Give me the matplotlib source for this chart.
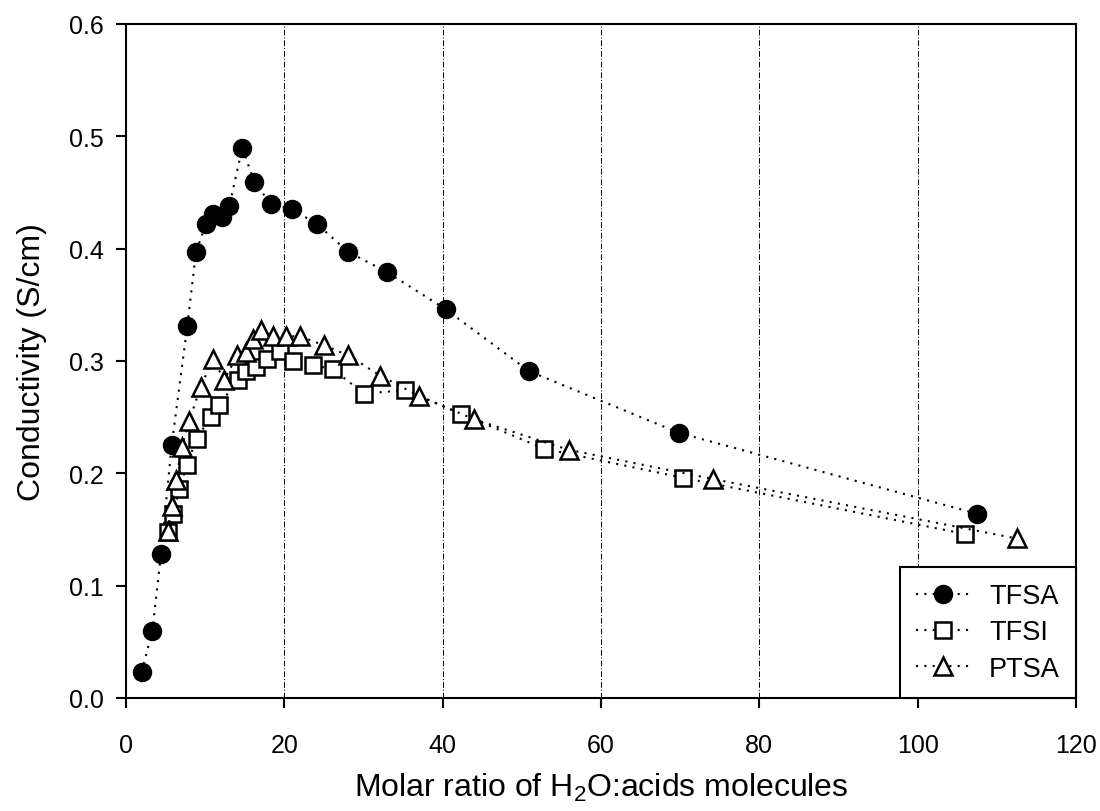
import matplotlib
matplotlib.use("Agg")
import matplotlib.pyplot as plt
from matplotlib.ticker import FormatStrFormatter

plt.rcParams['font.family'] = ['Liberation Sans', 'DejaVu Sans']
plt.rcParams['mathtext.fontset'] = 'custom'
plt.rcParams['mathtext.rm'] = 'Liberation Sans'
plt.rcParams['mathtext.it'] = 'Liberation Sans'

tfsa_x = [1.98, 3.33, 4.42, 5.77, 7.74, 8.84, 10.1, 11.0, 12.1, 13.05, 14.7, 16.2, 18.3, 21.0, 24.1, 28.1, 33.0, 40.4, 50.9, 69.85, 107.5]
tfsa_y = [0.023, 0.060, 0.128, 0.225, 0.331, 0.397, 0.422, 0.431, 0.428, 0.438, 0.490, 0.459, 0.440, 0.435, 0.422, 0.397, 0.379, 0.346, 0.291, 0.236, 0.164]

tfsi_x = [5.35, 5.98, 6.74, 7.66, 8.93, 10.7, 11.8, 14.1, 15.2, 16.4, 17.8, 19.4, 21.1, 23.6, 26.1, 30.0, 35.3, 42.3, 52.8, 70.4, 106.0]
tfsi_y = [0.148, 0.164, 0.186, 0.207, 0.231, 0.250, 0.261, 0.283, 0.291, 0.295, 0.302, 0.309, 0.300, 0.296, 0.293, 0.271, 0.274, 0.253, 0.222, 0.196, 0.146]

ptsa_x = [5.35, 5.77, 6.32, 7.03, 8.0, 9.43, 11.0, 12.4, 14.06, 15.2, 16.1, 17.1, 18.6, 20.2, 22.0, 25.0, 28.1, 32.1, 37.0, 44.0, 55.9, 74.1, 112.5]
ptsa_y = [0.149, 0.171, 0.194, 0.223, 0.247, 0.277, 0.302, 0.283, 0.305, 0.308, 0.320, 0.328, 0.322, 0.322, 0.322, 0.314, 0.305, 0.287, 0.269, 0.248, 0.221, 0.195, 0.142]

labels = ['TFSA', 'TFSI', 'PTSA']
x_ticks = [0, 20, 40, 60, 80, 100, 120]
y_ticks = [0.0, 0.1, 0.2, 0.3, 0.4, 0.5, 0.6]

fig = plt.figure(figsize=(11, 8.12), dpi=100)
ax = fig.add_axes([126/1100, 113/812, 950/1100, 674/812])

dot = (0, (1, 3))
ax.plot(tfsa_x, tfsa_y, linestyle=dot, color='black', lw=1.5, marker='o',
        markersize=13, markerfacecolor='black', markeredgecolor='black', label=labels[0], zorder=3)
ax.plot(tfsi_x, tfsi_y, linestyle=dot, color='black', lw=1.5, marker='s',
        markersize=11.5, markerfacecolor='white', markeredgecolor='black', markeredgewidth=1.8,
        label=labels[1], zorder=3)
ax.plot(ptsa_x, ptsa_y, linestyle=dot, color='black', lw=1.5, marker='^',
        markersize=13, markerfacecolor='white', markeredgecolor='black', markeredgewidth=1.8,
        label=labels[2], zorder=3)

ax.set_xlim(0, 120)
ax.set_ylim(0, 0.6)
ax.set_xticks(x_ticks)
ax.set_yticks(y_ticks)
ax.yaxis.set_major_formatter(FormatStrFormatter('%.1f'))
ax.tick_params(direction='out', length=7, width=1.5, labelsize=18)
ax.tick_params(axis='x', pad=18)
ax.tick_params(axis='y', pad=9)
for s in ax.spines.values():
    s.set_linewidth(1.5)

ax.xaxis.grid(True, color='black', linestyle=(0, (6, 2, 1, 2)), lw=0.7)
ax.set_axisbelow(True)

ax.set_xlabel('Molar ratio of H$_2$O:acids molecules', fontsize=23, labelpad=10)
ax.set_ylabel('Conductivity (S/cm)', fontsize=23, labelpad=16)

leg = ax.legend(loc='lower right', fontsize=19.5, frameon=True, fancybox=False,
                edgecolor='black', framealpha=1, borderaxespad=0, handlelength=2.0,
                borderpad=0.6, labelspacing=0.38, handletextpad=0.7)
leg.get_frame().set_linewidth(1.5)

fig.savefig('out.png', dpi=100)
